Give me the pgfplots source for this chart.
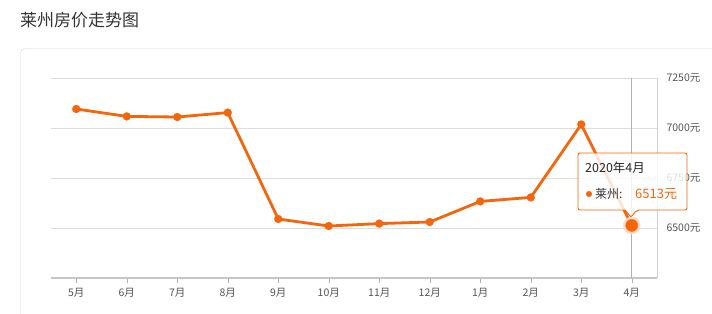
\documentclass[border=0pt]{standalone}
\usepackage{pgfplots}
\pgfplotsset{compat=1.18}
\usepackage{fontspec}
\setmainfont{Noto Sans CJK SC}
\definecolor{orng}{HTML}{F4650C}
\definecolor{txt}{HTML}{555555}
\definecolor{grd}{HTML}{DDDDDD}
\begin{document}
\begin{tikzpicture}
\useasboundingbox (0,0) rectangle (712bp,-314bp);
\clip (0,0) rectangle (712bp,-314bp);
% title
\node[anchor=west, font=\fontsize{17bp}{20bp}\selectfont, text=black!80, inner sep=0pt] at (20bp,-20bp) {莱州房价走势图};
% panel
\draw[black!18, rounded corners=4bp] (20.5bp,-48.5bp) rectangle (740bp,-340bp);
\begin{axis}[
  at={(51bp,-278bp)}, anchor=south west,
  scale only axis, width=606bp, height=200bp,
  xmin=-0.5, xmax=11.5, ymin=6250, ymax=7250,
  axis x line*=bottom, axis y line*=right,
  x axis line style={draw=black!22, line width=1.2bp, -},
  y axis line style={draw=black!18, -},
  xtick={0,...,11},
  xticklabels={5月,6月,7月,8月,9月,10月,11月,12月,1月,2月,3月,4月},
  ytick={6500,6750,7000,7250},
  yticklabels={6500元,6750元,7000元,7250元},
  ymajorgrids, grid style={grd, line width=0.8bp},
  tick align=outside,
  major tick length=5bp,
  xtick style={draw=black!30},
  ytick style={draw=none},
  tick label style={font=\fontsize{10.5bp}{12bp}\selectfont, text=txt},
  xticklabel style={yshift=-2bp},
  yticklabel style={anchor=west, xshift=1bp},
  /pgf/number format/assume math mode=true,
  clip=false,
]
\addplot[black!30, line width=0.8bp] coordinates {(11,6250) (11,7250)};
\addplot[orng, line width=2.8bp] coordinates {
(0,7095) (1,7058) (2,7055) (3,7077) (4,6545) (5,6510) (6,6522) (7,6530) (8,6633) (9,6653) (10,7018) (11,6513)
};
\addplot[orng, only marks, mark=*, mark size=4bp, mark options={solid, fill=orng, draw=orng, line width=0.2bp}] coordinates {
(0,7095) (1,7058) (2,7055) (3,7077) (4,6545) (5,6510) (6,6522) (7,6530) (8,6633) (9,6653) (10,7018)
};
\end{axis}
% tooltip
\filldraw[draw=orng, line width=0.9bp, fill=white, fill opacity=0.82, rounded corners=2bp]
  (578bp,-153bp) -- (687bp,-153bp) -- (687bp,-210bp) -- (637bp,-210bp) [sharp corners] -- (631bp,-217bp) -- (625bp,-210bp) [rounded corners=2bp] -- (578bp,-210bp) -- cycle;
\node[anchor=west, inner sep=0pt, font=\fontsize{12.5bp}{14bp}\selectfont, text=black!85] at (585bp,-168bp) {2020年4月};
\fill[orng] (589bp,-194bp) circle (3bp);
\node[anchor=west, inner sep=0pt, font=\fontsize{12bp}{14bp}\selectfont, text=black!80] at (595bp,-194bp) {莱州:};
\node[anchor=west, inner sep=0pt, font=\fontsize{13bp}{15bp}\selectfont, text=orng] at (635bp,-194bp) {6513元};
\begin{axis}[
  at={(51bp,-278bp)}, anchor=south west,
  scale only axis, width=606bp, height=200bp,
  xmin=-0.5, xmax=11.5, ymin=6250, ymax=7250,
  hide axis, clip=false,
]
\addplot[orng!25, only marks, mark=*, mark size=8.5bp, mark options={solid, fill=orng!25, draw=orng!25}] coordinates {(11,6513)};
\addplot[orng, only marks, mark=*, mark size=6bp, mark options={solid, fill=orng, draw=orng}] coordinates {(11,6513)};
\end{axis}
\end{tikzpicture}
\end{document}
